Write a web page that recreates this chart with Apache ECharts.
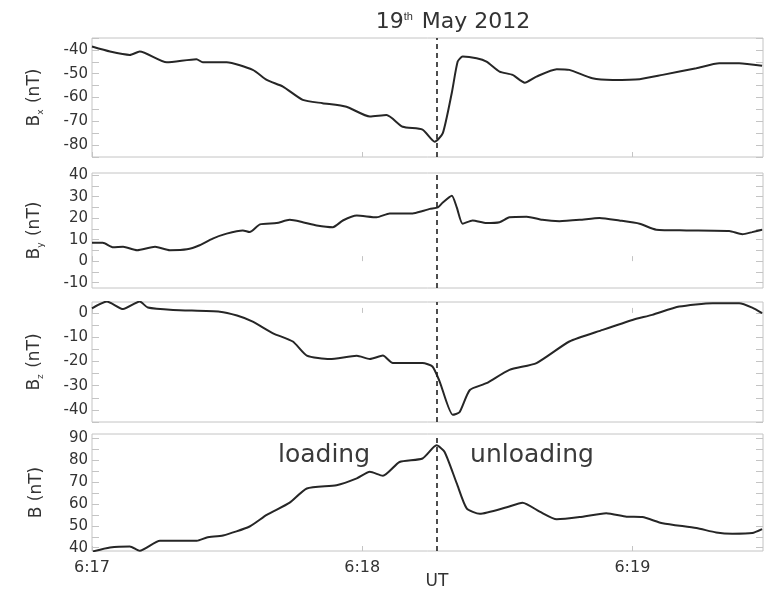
<!DOCTYPE html>
<html>
<head>
<meta charset="utf-8">
<script src="https://cdn.jsdelivr.net/npm/echarts@6/dist/echarts.min.js"></script>
<style>
  html, body { margin: 0; padding: 0; background: #fff; }
  #chart { width: 764px; height: 595px; }
</style>
</head>
<body>
<div id="chart"></div>
<script>
// Time is in seconds after 06:17:00 UT
const onsetTime = 76.5;
const timeTicks = [0, 60, 120];
const timeTickLabels = ['6:17', '6:18', '6:19'];

const bxTime = [0, 4.0, 8.4, 10.6, 16.6, 23.2, 24.6, 29.9, 35.7, 38.8, 42.4, 46.8, 51.2, 56.5, 61.7, 65.4, 69.0, 73.4, 76.1, 77.9, 79.9, 81.2, 82.3, 85.4, 87.6, 90.5, 93.4, 96.1, 98.7, 103.2, 106.0, 111.1, 115.6, 121.6, 126.7, 134.2, 139.3, 143.7, 148.8];
const bxVal = [-38.6, -40.7, -42.1, -40.7, -45.2, -43.9, -45.2, -45.2, -48.4, -52.6, -55.4, -61, -62.4, -63.9, -68, -67.4, -72.3, -73.5, -78.6, -75, -58, -44.9, -42.8, -43.5, -44.9, -49.1, -50.5, -53.8, -51.2, -48.1, -48.4, -51.9, -52.6, -52.3, -50.5, -47.7, -45.6, -45.6, -46.7];

const byTime = [0, 2.4, 4.7, 6.9, 10.0, 14.0, 17.3, 21.1, 23.9, 26.8, 29.9, 33.5, 35.0, 37.3, 41.0, 43.9, 46.8, 49.9, 53.5, 55.7, 58.8, 63.2, 66.1, 71.2, 73.4, 75.0, 76.8, 77.9, 79.9, 81.0, 82.3, 84.5, 87.6, 90.5, 92.7, 96.5, 100.0, 103.8, 108.3, 112.7, 117.1, 121.6, 125.3, 132.0, 141.5, 144.4, 146.6, 148.8];
const byVal = [8.5, 8.5, 6.4, 6.7, 5.1, 6.7, 5.1, 5.5, 7.4, 10.5, 12.8, 14.3, 13.5, 17.1, 17.7, 19.2, 18.1, 16.6, 15.8, 18.9, 21.2, 20.4, 22.2, 22.2, 23.3, 24.3, 25, 27.3, 30.4, 25, 17.4, 18.9, 17.7, 18.1, 20.4, 20.7, 19.2, 18.6, 19.2, 20.1, 18.9, 17.4, 14.6, 14.3, 14, 12.5, 13.5, 14.6];

const bzTime = [0, 3.3, 6.9, 10.6, 12.4, 18.0, 28.4, 32.2, 35.7, 40.2, 44.6, 47.7, 52.8, 58.8, 61.7, 64.6, 66.8, 73.4, 75.6, 77.2, 80.1, 81.6, 83.9, 87.6, 92.7, 98.7, 106.0, 113.4, 120.0, 124.4, 130.4, 137.8, 143.7, 146.6, 148.8];
const bzVal = [1.9, 4.7, 1.6, 4.7, 2.2, 1.2, 0.5, -1.1, -3.6, -8.4, -11.8, -17.6, -19, -17.7, -19, -17.6, -20.7, -20.7, -22.1, -28.3, -42, -41, -31.8, -29, -23.5, -20.7, -11.8, -7, -2.9, -0.8, 2.6, 4, 4, 2.2, -0.1];

const bTime = [0.2, 4.0, 8.4, 10.6, 15.1, 23.3, 25.5, 29.1, 35.0, 38.8, 43.9, 47.7, 54.3, 58.8, 61.7, 64.6, 68.3, 73.4, 76.5, 78.3, 81.0, 83.2, 86.1, 92.1, 95.6, 99.4, 103.2, 108.3, 114.2, 118.7, 122.2, 126.7, 134.2, 138.6, 142.2, 146.6, 148.8];
const bVal = [38.3, 40.1, 40.6, 38.6, 43.2, 43.2, 44.7, 45.6, 49.7, 55, 60.6, 67.1, 68.6, 71.7, 74.7, 72.9, 79.2, 80.8, 86.8, 83.8, 69.4, 58, 55.5, 58.5, 60.6, 56.5, 53, 54, 55.8, 54.2, 54, 51.2, 49, 47, 46.4, 46.7, 48.5];

// Panel axis ranges and tick values
const panels = [
  { name: 'B{sub|x} (nT)', time: bxTime, val: bxVal, min: -85, max: -35,
    labels: [-80, -70, -60, -50, -40], ticks: [-85, -80, -75, -70, -65, -60, -55, -50, -45, -40, -35] },
  { name: 'B{sub|y} (nT)', time: byTime, val: byVal, min: -12.5, max: 41,
    labels: [-10, 0, 10, 20, 30, 40], ticks: [-10, -5, 0, 5, 10, 15, 20, 25, 30, 35, 40] },
  { name: 'B{sub|z} (nT)', time: bzTime, val: bzVal, min: -45, max: 4.5,
    labels: [-40, -30, -20, -10, 0], ticks: [-45, -40, -35, -30, -25, -20, -15, -10, -5, 0] },
  { name: 'B (nT)', time: bTime, val: bVal, min: 38.5, max: 92,
    labels: [40, 50, 60, 70, 80, 90], ticks: [40, 45, 50, 55, 60, 65, 70, 75, 80, 85, 90] }
];

const gridBoxes = [
  { top: 38, height: 119 },
  { top: 173, height: 115 },
  { top: 302, height: 120 },
  { top: 434, height: 117 }
];

const frameColor = '#c4c4c4';
const textColor = '#333';
const fontFamily = 'DejaVu Sans, Verdana, sans-serif';

const grids = [], xAxes = [], yAxes = [], series = [];
panels.forEach((p, i) => {
  grids.push({
    left: 92, width: 671, top: gridBoxes[i].top, height: gridBoxes[i].height,
    show: true, borderColor: frameColor, borderWidth: 1, backgroundColor: 'transparent'
  });
  const isBottom = i === panels.length - 1;
  xAxes.push({
    type: 'value', gridIndex: i, min: 0, max: 149,
    axisLine: { show: false },
    splitLine: { show: false },
    axisTick: { show: true, inside: true, length: 5, customValues: timeTicks,
      lineStyle: { color: frameColor } },
    axisLabel: {
      show: isBottom, customValues: timeTicks, margin: 9,
      color: textColor, fontSize: 16, fontFamily: fontFamily,
      formatter: v => timeTickLabels[timeTicks.indexOf(v)] || ''
    }
  });
  yAxes.push({
    type: 'value', gridIndex: i, min: p.min, max: p.max, position: 'left',
    name: p.name, nameLocation: 'middle', nameGap: 47, nameRotate: 90,
    nameTextStyle: {
      color: textColor, fontSize: 17, fontFamily: fontFamily,
      rich: { sub: { fontSize: 9, color: textColor, fontFamily: fontFamily, padding: [12, 1, 0, 0] } }
    },
    axisLine: { show: false },
    splitLine: { show: false },
    axisTick: { show: true, inside: true, length: 7, customValues: p.ticks,
      lineStyle: { color: frameColor } },
    axisLabel: { customValues: p.labels, margin: 4, color: textColor, fontSize: 15,
      fontFamily: fontFamily }
  });
  // mirrored ticks on the right edge of each panel
  yAxes.push({
    type: 'value', gridIndex: i, min: p.min, max: p.max, position: 'right',
    axisLine: { show: false },
    splitLine: { show: false },
    axisTick: { show: true, inside: true, length: 7, customValues: p.ticks,
      lineStyle: { color: frameColor } },
    axisLabel: { show: false }
  });
  series.push({
    type: 'line', xAxisIndex: i, yAxisIndex: 2 * i,
    data: p.time.map((t, k) => [t, p.val[k]]),
    showSymbol: false, smooth: 0.2,
    lineStyle: { color: '#262626', width: 2 },
    markLine: {
      silent: true, symbol: 'none', label: { show: false },
      lineStyle: { color: '#222', width: 1.6, type: [5, 4] },
      data: [{ xAxis: onsetTime }]
    },
    z: 3
  });
});

const chart = echarts.init(document.getElementById('chart'), null, { renderer: 'canvas' });
chart.setOption({
  backgroundColor: '#fff',
  animation: false,
  grid: grids,
  xAxis: xAxes,
  yAxis: yAxes,
  series: series,
  graphic: [
    { type: 'text', x: 453, y: 22,
      style: { text: '19{sup|th} May 2012', fill: textColor, font: '22px ' + fontFamily,
        align: 'center', verticalAlign: 'middle',
        rich: { sup: { fontSize: 11, fill: textColor, padding: [0, 2, 11, 0] } } } },
    { type: 'text', x: 324, y: 455,
      style: { text: 'loading', fill: '#3a3a3a', font: '25px ' + fontFamily,
        align: 'center', verticalAlign: 'middle' } },
    { type: 'text', x: 532, y: 455,
      style: { text: 'unloading', fill: '#3a3a3a', font: '25px ' + fontFamily,
        align: 'center', verticalAlign: 'middle' } },
    { type: 'text', x: 437, y: 582,
      style: { text: 'UT', fill: textColor, font: '17px ' + fontFamily,
        align: 'center', verticalAlign: 'middle' } }
  ]
});
</script>
</body>
</html>
